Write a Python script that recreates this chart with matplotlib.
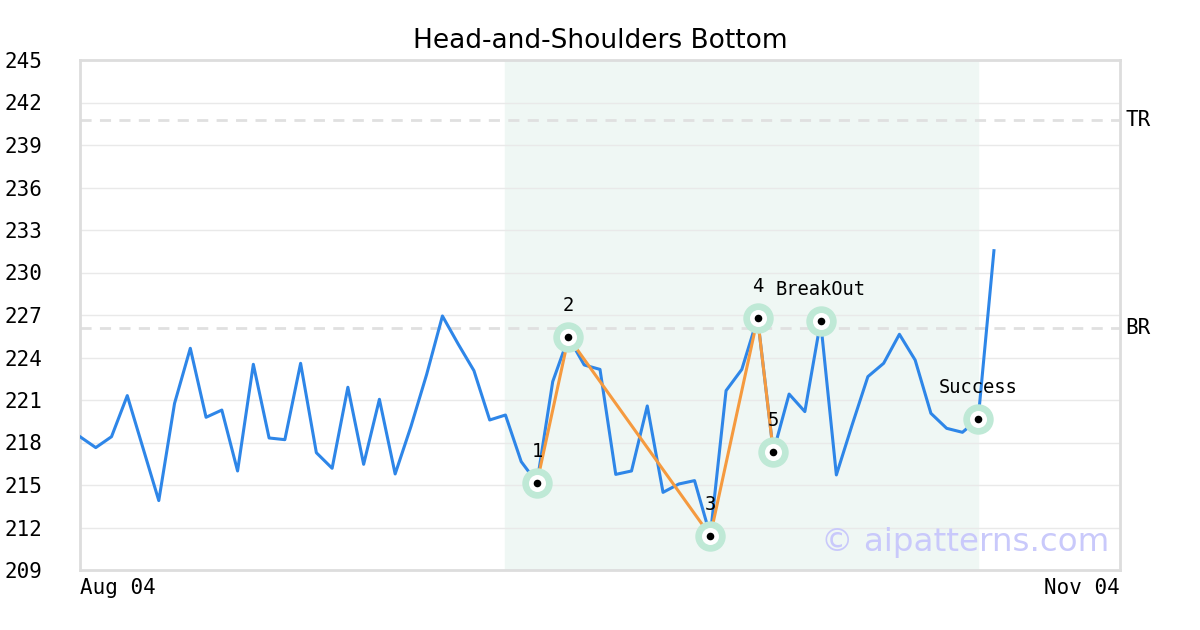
import numpy as np
import matplotlib
matplotlib.use("Agg")
import matplotlib.pyplot as plt

# closing prices, one per trading day starting Aug 04
prices = [218.41, 217.64, 218.41, 221.31, 217.6, 213.9, 220.76, 224.65, 219.78, 220.29,
          215.99, 223.52, 218.32, 218.2, 223.59, 217.28, 216.18, 221.9, 216.46, 221.05,
          215.78, 219.12, 222.81, 226.93, 224.95, 223.07, 219.59, 219.94, 216.65, 215.16,
          222.3, 225.42, 223.47, 223.16, 215.75, 215.99, 220.58, 214.48, 215.07, 215.31,
          211.42, 221.66, 223.16, 226.78, 217.33, 221.42, 220.18, 226.55, 215.71, 219.24,
          222.65, 223.59, 225.64, 223.82, 220.06, 219.0, 218.72, 219.66, 231.54]
n_days = 67
date_labels = ["Aug 04", "Nov 04"]

pivot_idx = [29, 31, 40, 43, 44]
pivot_labels = ["1", "2", "3", "4", "5"]
breakout_idx = 47
success_idx = 57
pattern_span = (27, 57)

tr_level = 240.76
br_level = 226.08
y_ticks = list(range(209, 246, 3))

mono = "DejaVu Sans Mono"

fig = plt.figure(figsize=(12, 6.3), dpi=100)
ax = fig.add_axes([80 / 1200, 60 / 630, 1040 / 1200, 510 / 630])

x = np.arange(len(prices))
p = np.array(prices)

ax.axvspan(*pattern_span, color="#eff7f4", zorder=0)
for yv in y_ticks:
    ax.axhline(yv, color="#e9e9e9", lw=1, zorder=1)
for lvl in (tr_level, br_level):
    ax.axhline(lvl, color="#e0e0e0", lw=2, ls=(0, (4, 3)), zorder=1)

ax.plot(x, p, color="#2e86e8", lw=2.2, zorder=3)
ax.plot(pivot_idx, p[pivot_idx], color="#f59a3f", lw=2.2, zorder=4)

marks = pivot_idx + [breakout_idx, success_idx]
ax.scatter(marks, p[marks], s=480, color="#bfe9d6", lw=0, zorder=5)
ax.scatter(marks, p[marks], s=150, color="white", lw=0, zorder=6)
ax.scatter(marks, p[marks], s=30, color="black", lw=0, zorder=7)

for i, lab in zip(pivot_idx, pivot_labels):
    ax.annotate(lab, (i, p[i]), xytext=(0, 22), textcoords="offset pixels",
                ha="center", va="bottom", fontsize=13.5, family=mono, zorder=8)
ax.annotate("BreakOut", (breakout_idx, p[breakout_idx]), xytext=(0, 22),
            textcoords="offset pixels", ha="center", va="bottom", fontsize=13.5,
            family=mono, zorder=8)
ax.annotate("Success", (success_idx, p[success_idx]), xytext=(0, 22),
            textcoords="offset pixels", ha="center", va="bottom", fontsize=13.5,
            family=mono, zorder=8)

ax.text(1.005, (tr_level - 209) / 36, "TR", transform=ax.transAxes, va="center",
        ha="left", fontsize=15, family=mono)
ax.text(1.005, (br_level - 209) / 36, "BR", transform=ax.transAxes, va="center",
        ha="left", fontsize=15, family=mono)

ax.text(0.99, 0.053, "© aipatterns.com", transform=ax.transAxes, ha="right",
        va="center", fontsize=23.4, color="#c9c9fb", zorder=9)

ax.set_xlim(0, n_days - 1)
ax.set_ylim(209, 245)
ax.set_yticks(y_ticks)
ax.set_yticklabels([str(v) for v in y_ticks], family=mono, fontsize=15)
ax.set_xticks([0, n_days - 1])
ax.set_xticklabels(date_labels, family=mono, fontsize=15)
xl = ax.get_xticklabels()
xl[0].set_ha("left")
xl[1].set_ha("right")
ax.tick_params(length=0, pad=6)
ax.tick_params(axis="y", pad=54)
for lab in ax.get_yticklabels():
    lab.set_ha("left")
for s in ax.spines.values():
    s.set_color("#dddddd")
    s.set_linewidth(2)

ax.set_title("Head-and-Shoulders Bottom", fontsize=19, pad=9)

fig.savefig("out.png", dpi=100)
